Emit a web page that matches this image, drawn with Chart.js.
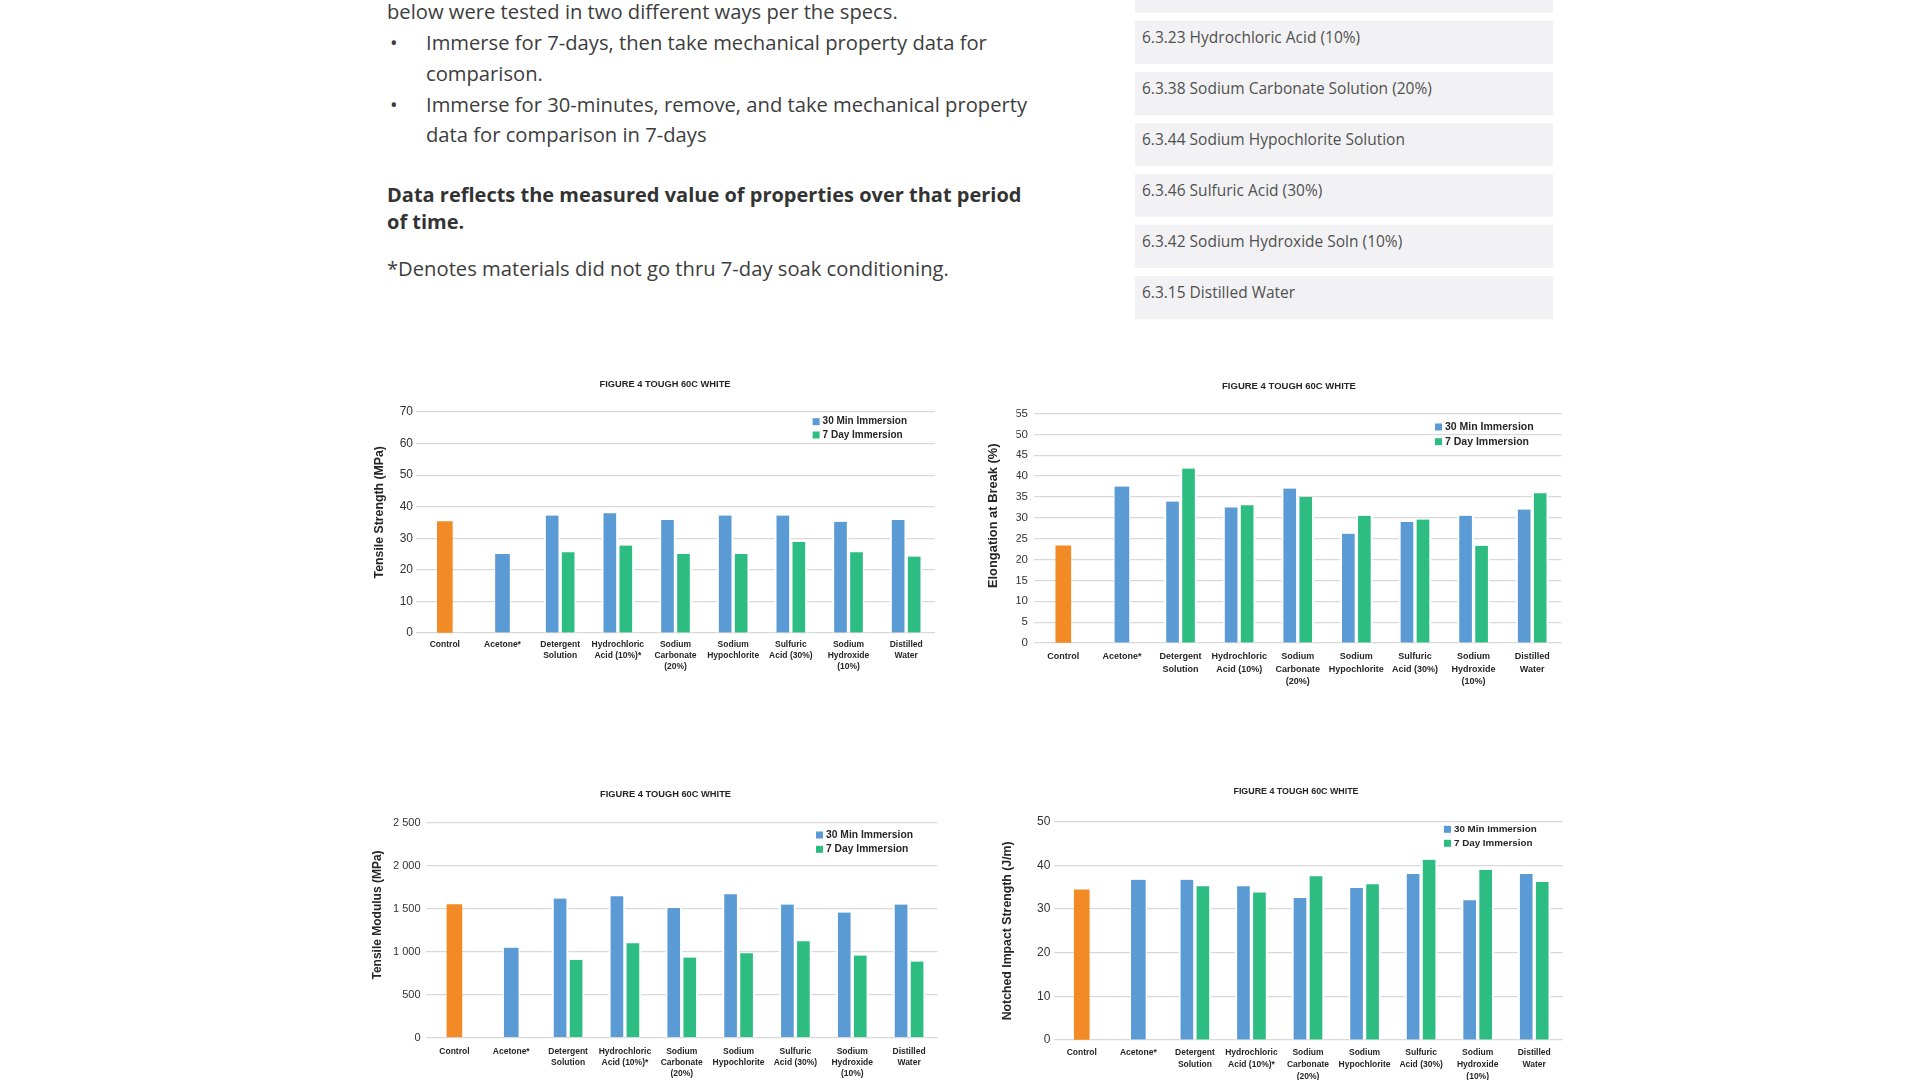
<!DOCTYPE html>
<html>
<head>
<meta charset="utf-8">
<title>Figure 4 Tough 60C White</title>
<script src="https://cdn.jsdelivr.net/npm/chart.js@4.4.1/dist/chart.umd.min.js"></script>
<style>
    html, body {
        margin: 0;
        padding: 0;
        background: #ffffff;
    }

    body {
        position: relative;
        width: 1920px;
        height: 1080px;
        overflow: hidden;
        font-family: 'Open Sans', 'Noto Sans', sans-serif;
        color: #3d3d3d;
    }

    .copy {
        position: absolute;
        left: 387px;
        font-size: 20.2px;
        white-space: nowrap;
    }

    .bullets {
        position: absolute;
        top: 27.3px;
        left: 387px;
        font-size: 20.2px;
        line-height: 30.7px;
        white-space: nowrap;
    }

    .bullets .dot {
        position: absolute;
        left: 3px;
    }

    .bullets .item {
        margin-left: 39px;
    }

    .strong {
        font-size: 20px;
        font-weight: 700;
        color: #333;
        line-height: 27px;
    }

    .spec {
        position: absolute;
        left: 1135px;
        width: 418px;
        height: 43px;
        background: #f2f2f4;
        box-sizing: border-box;
        padding: 6px 0 0 7px;
        font-size: 15.5px;
        line-height: 20px;
        color: #505050;
    }

    .chart-box {
        position: absolute;
    }
</style>
</head>
<body>

<div class="copy" style="top: -3.7px; line-height: 30px;">below were tested in two different ways per the specs.</div>

<div class="bullets">
    <span class="dot" style="top: 0;">&bull;</span>
    <div class="item">Immerse for 7-days, then take mechanical property data for<br>comparison.</div>
    <span class="dot" style="top: 61.4px;">&bull;</span>
    <div class="item">Immerse for 30-minutes, remove, and take mechanical property<br>data for comparison in 7-days</div>
</div>

<div class="copy strong" style="top: 180.5px;">Data reflects the measured value of properties over that period<br>of time.</div>

<div class="copy" style="top: 253.3px; line-height: 30px;">*Denotes materials did not go thru 7-day soak conditioning.</div>

<div id="spec-list"></div>

<div class="chart-box" id="box-tensile"><canvas id="tensileChart"></canvas></div>
<div class="chart-box" id="box-elongation"><canvas id="elongationChart"></canvas></div>
<div class="chart-box" id="box-modulus"><canvas id="modulusChart"></canvas></div>
<div class="chart-box" id="box-impact"><canvas id="impactChart"></canvas></div>

<script>
// Spec list on the right
const specItems = [
    '',
    '6.3.23 Hydrochloric Acid (10%)',
    '6.3.38 Sodium Carbonate Solution (20%)',
    '6.3.44 Sodium Hypochlorite Solution',
    '6.3.46 Sulfuric Acid (30%)',
    '6.3.42 Sodium Hydroxide Soln (10%)',
    '6.3.15 Distilled Water'
];
const specTops = [-30, 20.5, 71.5, 123, 173.5, 224.5, 276];

// Chart categories
const categories = [
    'Control',
    'Acetone*',
    ['Detergent', 'Solution'],
    ['Hydrochloric', 'Acid (10%)*'],
    ['Sodium', 'Carbonate', '(20%)'],
    ['Sodium', 'Hypochlorite'],
    ['Sulfuric', 'Acid (30%)'],
    ['Sodium', 'Hydroxide', '(10%)'],
    ['Distilled', 'Water']
];
const categoriesElongation = [
    'Control',
    'Acetone*',
    ['Detergent', 'Solution'],
    ['Hydrochloric', 'Acid (10%)'],
    ['Sodium', 'Carbonate', '(20%)'],
    ['Sodium', 'Hypochlorite'],
    ['Sulfuric', 'Acid (30%)'],
    ['Sodium', 'Hydroxide', '(10%)'],
    ['Distilled', 'Water']
];

const seriesNames = ['Control', '30 Min Immersion', '7 Day Immersion'];

// Tensile strength (MPa)
const tensileControl = [35.3, null, null, null, null, null, null, null, null];
const tensile30Min = [null, 25.0, 37.2, 37.9, 35.8, 37.2, 37.2, 35.2, 35.8];
const tensile7Day = [null, null, 25.6, 27.7, 25.0, 25.0, 28.8, 25.6, 24.2];

// Elongation at break (%)
const elongationControl = [23.3, null, null, null, null, null, null, null, null];
const elongation30Min = [null, 37.5, 33.9, 32.5, 37.0, 26.2, 29.0, 30.5, 32.0];
const elongation7Day = [null, null, 41.8, 33.0, 35.0, 30.5, 29.6, 23.3, 35.9];

// Tensile modulus (MPa)
const modulusControl = [1545, null, null, null, null, null, null, null, null];
const modulus30Min = [null, 1045, 1615, 1642, 1507, 1665, 1546, 1454, 1546];
const modulus7Day = [null, null, 903, 1096, 930, 981, 1119, 953, 884];

// Notched impact strength (J/m)
const impactControl = [34.4, null, null, null, null, null, null, null, null];
const impact30Min = [null, 36.7, 36.7, 35.2, 32.5, 34.8, 38.0, 32.0, 38.0];
const impact7Day = [null, null, 35.2, 33.8, 37.5, 35.7, 41.3, 39.0, 36.2];

const COLORS = {
    control: '#f28a26',
    min30: '#5b9bd5',
    day7: '#2dbd83',
    grid: '#d9d9d9',
    text: '#262626'
};

const FONT = '"Liberation Sans", Arial, sans-serif';

// Legend drawn inside the plot, top right, from the datasets
const insideLegend = {
    id: 'insideLegend',
    afterDraw(chart, args, opts) {
        const ctx = chart.ctx;
        const items = chart.data.datasets.filter(ds => ds.inLegend);
        ctx.save();
        ctx.font = `bold ${opts.size}px ${FONT}`;
        ctx.textBaseline = 'middle';
        ctx.textAlign = 'left';
        items.forEach((ds, i) => {
            const y = opts.y + i * opts.gap;
            ctx.fillStyle = ds.backgroundColor;
            ctx.fillRect(opts.x, y - 3.5, 7, 7);
            ctx.fillStyle = COLORS.text;
            ctx.fillText(ds.label, opts.x + 10, y);
        });
        ctx.restore();
    }
};

function renderSpecs() {
    const holder = document.getElementById('spec-list');
    holder.innerHTML = specItems.map((text, i) =>
        `<div class="spec" style="top:${specTops[i]}px">${text}</div>`
    ).join('');
}

function spaced(v) {
    if (v < 1000) return String(v);
    return Math.floor(v / 1000) + ' ' + String(v % 1000).padStart(3, '0');
}

function buildChart(cfg) {
    const f = cfg.frame;
    const [bx, by, bw, bh] = f.box;
    const [al, at, ar, ab] = f.area;

    const box = document.getElementById(cfg.boxId);
    box.style.left = bx + 'px';
    box.style.top = by + 'px';
    box.style.width = bw + 'px';
    box.style.height = bh + 'px';

    // left padding moves the chart title so it sits where the original one does
    const padLeft = 2 * f.titleX - bx - ar;
    const titleLH = f.titleSize * 1.2;
    const titleTop = f.titleY - by - titleLH / 2;
    const titleBottom = (at - by) - titleTop - titleLH;
    const yTitleLH = f.yTitleSize * 1.2;

    const paired = i => cfg.min30[i] != null && cfg.day7[i] != null;
    const sideGap = ctx => paired(ctx.dataIndex)
        ? { left: 2, right: 2, top: 0, bottom: 0 }
        : { left: 1, right: 1, top: 0, bottom: 0 };

    new Chart(document.getElementById(cfg.canvasId), {
        type: 'bar',
        data: {
            labels: cfg.labels,
            datasets: [{
                label: seriesNames[0],
                data: cfg.control,
                backgroundColor: COLORS.control,
                barThickness: 15,
                inLegend: false
            }, {
                label: seriesNames[1],
                data: cfg.min30,
                backgroundColor: COLORS.min30,
                borderColor: '#ffffff',
                borderWidth: sideGap,
                barThickness: 16,
                inLegend: true
            }, {
                label: seriesNames[2],
                data: cfg.day7,
                backgroundColor: COLORS.day7,
                borderColor: '#ffffff',
                borderWidth: sideGap,
                barThickness: 16,
                inLegend: true
            }]
        },
        options: {
            responsive: true,
            maintainAspectRatio: false,
            animation: false,
            skipNull: true,
            layout: {
                autoPadding: false,
                padding: { left: padLeft, top: 0, bottom: 0, right: bx + bw - ar }
            },
            plugins: {
                legend: { display: false },
                tooltip: { enabled: false },
                title: {
                    display: true,
                    text: 'FIGURE 4 TOUGH 60C WHITE',
                    color: COLORS.text,
                    font: { family: FONT, size: f.titleSize, weight: 'bold' },
                    padding: { top: titleTop, bottom: titleBottom }
                },
                insideLegend: {
                    x: f.legend[0] - bx,
                    y: f.legend[1] - by,
                    gap: f.legend[2],
                    size: f.legend[3]
                }
            },
            scales: {
                x: {
                    offset: true,
                    grid: { display: false, drawTicks: false },
                    border: { display: false },
                    afterFit: s => { s.height = by + bh - ab; },
                    ticks: {
                        autoSkip: false,
                        maxRotation: 0,
                        minRotation: 0,
                        color: COLORS.text,
                        padding: f.xLabelY - ab - f.xLineH / 2,
                        font: { family: FONT, size: f.xSize, weight: 'bold', lineHeight: f.xLineH + 'px' }
                    }
                },
                y: {
                    min: 0,
                    max: cfg.yMax,
                    afterFit: s => { s.width = al - bx - padLeft; },
                    grid: { color: COLORS.grid, lineWidth: 1.2, drawTicks: false },
                    border: { display: false },
                    ticks: {
                        stepSize: cfg.yStep,
                        color: '#333',
                        padding: al - f.yLabelRight,
                        font: { family: FONT, size: f.ySize },
                        callback: v => spaced(v)
                    },
                    title: {
                        display: true,
                        // leading spaces lift the rotated title above the middle, as in the original
                        text: ' '.repeat(f.yTitleLift) + cfg.yTitle,
                        color: COLORS.text,
                        font: { family: FONT, size: f.yTitleSize, weight: 'bold' },
                        padding: { top: f.yTitleX - bx - padLeft - yTitleLH / 2, bottom: 0 }
                    }
                }
            }
        },
        plugins: [insideLegend]
    });
}

document.addEventListener('DOMContentLoaded', function () {
    renderSpecs();

    buildChart({
        boxId: 'box-tensile', canvasId: 'tensileChart',
        labels: categories,
        control: tensileControl, min30: tensile30Min, day7: tensile7Day,
        yMax: 70, yStep: 10, yTitle: 'Tensile Strength (MPa)',
        frame: {
            box: [365, 372, 575, 308], area: [416, 412, 935, 633],
            titleX: 665, titleY: 384.5, titleSize: 9.3,
            yTitleX: 380, yTitleSize: 12.3, yTitleLift: 6, yLabelRight: 413, ySize: 12,
            xLabelY: 645, xLineH: 11, xSize: 8.5,
            legend: [812.6, 421.7, 13.3, 10]
        }
    });

    buildChart({
        boxId: 'box-elongation', canvasId: 'elongationChart',
        labels: categoriesElongation,
        control: elongationControl, min30: elongation30Min, day7: elongation7Day,
        yMax: 55, yStep: 5, yTitle: 'Elongation at Break (%)',
        frame: {
            box: [980, 372, 590, 318], area: [1034, 413.5, 1561.5, 643],
            titleX: 1289, titleY: 386, titleSize: 9.5,
            yTitleX: 993, yTitleSize: 12.9, yTitleLift: 7, yLabelRight: 1028, ySize: 11.5,
            xLabelY: 657, xLineH: 12.5, xSize: 9,
            legend: [1435, 427, 14.7, 10.5]
        }
    });

    buildChart({
        boxId: 'box-modulus', canvasId: 'modulusChart',
        labels: categories,
        control: modulusControl, min30: modulus30Min, day7: modulus7Day,
        yMax: 2500, yStep: 500, yTitle: 'Tensile Modulus (MPa)',
        frame: {
            box: [365, 782, 580, 298], area: [426, 822.5, 937.5, 1037.5],
            titleX: 665.5, titleY: 794, titleSize: 9.3,
            yTitleX: 378, yTitleSize: 12, yTitleLift: 9, yLabelRight: 420.5, ySize: 11,
            xLabelY: 1051.7, xLineH: 11, xSize: 8.5,
            legend: [816, 835, 14.3, 10.3]
        }
    });

    buildChart({
        boxId: 'box-impact', canvasId: 'impactChart',
        labels: categories,
        control: impactControl, min30: impact30Min, day7: impact7Day,
        yMax: 50, yStep: 10, yTitle: 'Notched Impact Strength (J/m)',
        frame: {
            box: [985, 780, 585, 300], area: [1053.5, 821.7, 1562.5, 1040],
            titleX: 1296, titleY: 792, titleSize: 8.9,
            yTitleX: 1008, yTitleSize: 12.3, yTitleLift: 0, yLabelRight: 1050.3, ySize: 12,
            xLabelY: 1053, xLineH: 12, xSize: 8.5,
            legend: [1444, 829.3, 14, 9.8]
        }
    });
});
</script>
</body>
</html>
